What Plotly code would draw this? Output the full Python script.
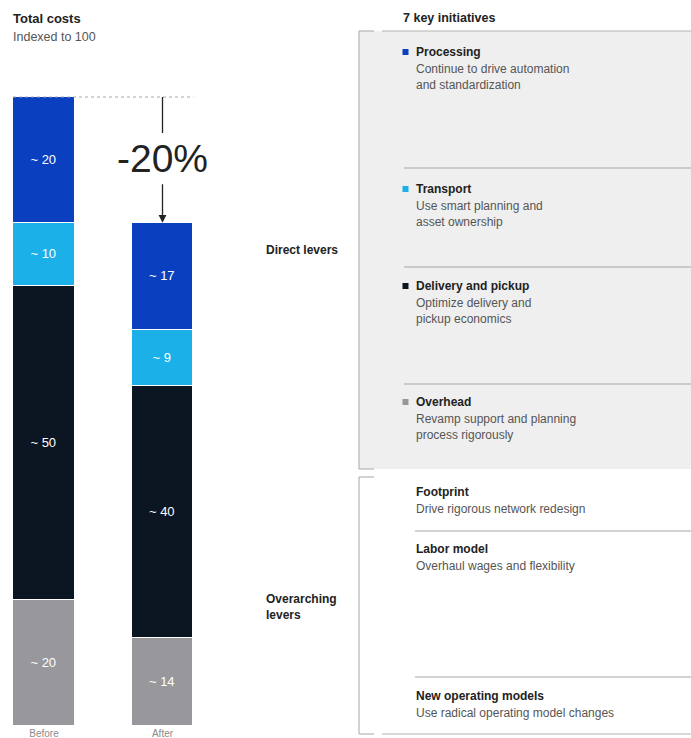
import plotly.graph_objects as go

# ---------------- data ----------------
categories = ["Before", "After"]
segment_names = ["Overhead", "Delivery and pickup", "Transport", "Processing"]
overhead = [20, 14]
delivery = [50, 40]
transport = [10, 9]
processing = [20, 17]
segment_colors = ["#98989c", "#0b1622", "#1bb0e8", "#0a40bf"]
change_label = "-20%"

initiative_titles = ["Processing", "Transport", "Delivery and pickup", "Overhead",
                     "Footprint", "Labor model", "New operating models"]
initiative_descs = ["Continue to drive automation<br>and standardization",
                    "Use smart planning and<br>asset ownership",
                    "Optimize delivery and<br>pickup economics",
                    "Revamp support and planning<br>process rigorously",
                    "Drive rigorous network redesign",
                    "Overhaul wages and flexibility",
                    "Use radical operating model changes"]
initiative_markers = ["#0a40bf", "#1bb0e8", "#0b1622", "#98989c", None, None, None]
lever_groups = ["Direct levers", "Overarching<br>levers"]

W, H = 691, 738
FONT = "Liberation Sans, Arial, sans-serif"


def px(x):
    return x / W


def py(y):
    return 1 - y / H


fig = go.Figure()
series = [overhead, delivery, transport, processing]
for name, vals, col in zip(segment_names, series, segment_colors):
    fig.add_trace(go.Bar(
        x=categories, y=vals, name=name,
        marker=dict(color=col, line=dict(color="white", width=1.5)),
        text=[f"~ {v}" for v in vals], textposition="inside",
        insidetextanchor="middle", textangle=0, constraintext="none",
        textfont=dict(color="white", size=13, family=FONT),
        width=0.523, hoverinfo="skip",
    ))

# axis geometry: bar centres at 44 px and 162.5 px, value 0 at 726 px, 100 at 97 px
unit_x = 118.5
xr0 = -44 / unit_x
xr1 = xr0 + 691 / unit_x
ppu = (726 - 97) / 100.0
ytop = 726 / ppu

fig.update_layout(
    width=W, height=H, margin=dict(l=0, r=0, t=0, b=0),
    barmode="stack", bargap=0, showlegend=False,
    plot_bgcolor="white", paper_bgcolor="white",
    template="none",
    xaxis=dict(range=[xr0, xr1], domain=[0, 1], showgrid=False, zeroline=False,
               showline=False, ticks="", automargin=False, ticklabelstandoff=0,
               tickfont=dict(size=10, color="#8a8a8a", family=FONT), fixedrange=True),
    yaxis=dict(range=[0, ytop], domain=[12 / H, 1], showgrid=False, zeroline=False,
               showline=False, showticklabels=False, automargin=False, fixedrange=True),
    font=dict(family=FONT),
)

total_before = sum(s[0] for s in series)
total_after = sum(s[1] for s in series)
half = 0.523 / 2

shapes = []
# dotted line at 100
shapes.append(dict(type="line", xref="x", yref="y", x0=-half, x1=1 + half,
                   y0=total_before, y1=total_before,
                   line=dict(color="#a8a8a8", width=1, dash="dot")))
# arrow stem top
shapes.append(dict(type="line", xref="x", yref="y", x0=1, x1=1,
                   y0=total_before, y1=total_before - 36 / ppu,
                   line=dict(color="#222222", width=1.3)))

# right panel box
gc = "#b4b4b4"
shapes.append(dict(type="rect", xref="paper", yref="paper", x0=px(359), x1=px(691),
                   y0=py(469), y1=py(31), fillcolor="#efefef", line=dict(width=0), layer="below"))


def hline(x0, x1, y, color=gc, w=1.2):
    shapes.append(dict(type="line", xref="paper", yref="paper", x0=px(x0), x1=px(x1),
                       y0=py(y), y1=py(y), line=dict(color=color, width=w)))


def vline(x, y0, y1, color=gc, w=1.2):
    shapes.append(dict(type="line", xref="paper", yref="paper", x0=px(x), x1=px(x),
                       y0=py(y0), y1=py(y1), line=dict(color=color, width=w)))


vline(359, 31, 469)
hline(359, 374, 31)
hline(382, 691, 31)
hline(359, 374, 469)
vline(359, 477, 734)
hline(359, 374, 477)
hline(359, 374, 734)
hline(382, 691, 734)
for yy in [168, 267, 384]:
    hline(404, 691, yy, color="#a6a6a6")
for yy in [531, 677]:
    hline(415, 691, yy, color="#a6a6a6")

# initiative markers
title_y = [52, 189, 286, 402, 492, 549, 696]
for ty, mc in zip(title_y, initiative_markers):
    if mc:
        shapes.append(dict(type="rect", xref="paper", yref="paper",
                           x0=px(402.5), x1=px(408.5), y0=py(ty + 3), y1=py(ty - 3),
                           fillcolor=mc, line=dict(width=0)))

annotations = []
DX = -2  # compensate annotation padding


def txt(x, y, s, size=12, color="#333333", bold=False, anchor="left", yanchor="middle"):
    annotations.append(dict(xref="paper", yref="paper", x=px(x + DX), y=py(y),
                            text=(f"<b>{s}</b>" if bold else s),
                            showarrow=False, xanchor=anchor, yanchor=yanchor, align="left",
                            font=dict(size=size, color=color, family=FONT)))


txt(13, 18, "Total costs", size=13, color="#222222", bold=True)
txt(13, 37, "Indexed to 100", size=12.5, color="#555555")
txt(403, 18, "7 key initiatives", size=12.5, color="#222222", bold=True)

for ty, t, d in zip(title_y, initiative_titles, initiative_descs):
    txt(416, ty, t, size=12, color="#222222", bold=True)
    annotations.append(dict(xref="paper", yref="paper", x=px(416 + DX), y=py(ty + 8),
                            text=d, showarrow=False, xanchor="left", yanchor="top", align="left",
                            font=dict(size=12, color="#555555", family=FONT)))

txt(266, 250, lever_groups[0], size=12, color="#222222", bold=True)
annotations.append(dict(xref="paper", yref="paper", x=px(266 + DX), y=py(590),
                        text=f"<b>{lever_groups[1]}</b>", showarrow=False, xanchor="left",
                        yanchor="top", align="left",
                        font=dict(size=12, color="#222222", family=FONT)))

# -20% label and arrow
annotations.append(dict(xref="x", yref="y", x=1, y=total_before - (158 - 97) / ppu,
                        text=change_label, showarrow=False, xanchor="center", yanchor="middle",
                        font=dict(size=39, color="#222222", family=FONT)))
annotations.append(dict(xref="x", yref="y", x=1, y=total_after, axref="x", ayref="y",
                        ax=1, ay=total_after + 40 / ppu, text="", showarrow=True,
                        arrowhead=2, arrowsize=1.2, arrowwidth=1.3, arrowcolor="#222222",
                        standoff=0))

fig.update_layout(shapes=shapes, annotations=annotations)
fig.write_html("out.html", config={"displayModeBar": False},
               post_script="document.body.style.margin='0px';document.body.style.overflow='hidden';")
